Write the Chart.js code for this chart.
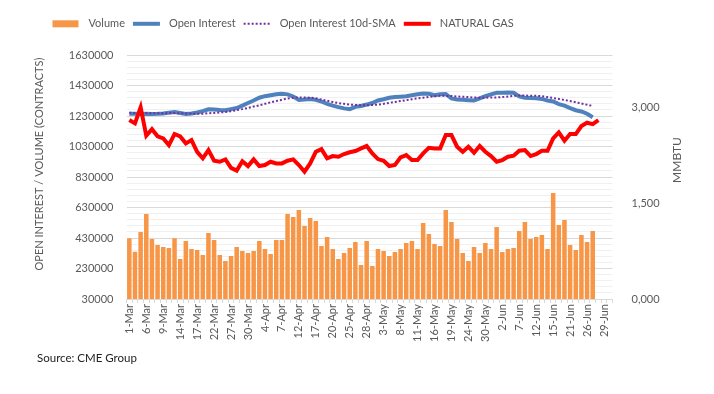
<!DOCTYPE html>
<html>
<head>
<meta charset="utf-8">
<script src="https://cdn.jsdelivr.net/npm/chart.js@4.4.0/dist/chart.umd.min.js"></script>
<style>
  html, body { margin: 0; padding: 0; background: #fff; }
</style>
</head>
<body>
<canvas id="chart" width="714" height="394"></canvas>
<script>
const dates = [
  '1-Mar','2-Mar','3-Mar','6-Mar','7-Mar','8-Mar','9-Mar','10-Mar','13-Mar','14-Mar','15-Mar','16-Mar',
  '17-Mar','20-Mar','21-Mar','22-Mar','23-Mar','24-Mar','27-Mar','28-Mar','29-Mar','30-Mar','31-Mar',
  '3-Apr','4-Apr','5-Apr','6-Apr','7-Apr','10-Apr','11-Apr','12-Apr','13-Apr','14-Apr','17-Apr','18-Apr',
  '19-Apr','20-Apr','21-Apr','24-Apr','25-Apr','26-Apr','27-Apr','28-Apr',
  '1-May','2-May','3-May','4-May','5-May','8-May','9-May','10-May','11-May','12-May','15-May','16-May',
  '17-May','18-May','19-May','22-May','23-May','24-May','25-May','26-May','30-May','31-May',
  '1-Jun','2-Jun','5-Jun','6-Jun','7-Jun','8-Jun','9-Jun','12-Jun','13-Jun','14-Jun','15-Jun','16-Jun',
  '20-Jun','21-Jun','22-Jun','23-Jun','26-Jun','27-Jun','28-Jun','29-Jun','30-Jun'
];

const volume = [
  428000, 340000, 469000, 587000, 423000, 384000, 371000, 364000, 428000, 292000, 410000, 358000,
  351000, 319000, 463000, 417000, 319000, 279000, 312000, 371000, 345000, 332000, 345000,
  410000, 358000, 325000, 417000, 417000, 587000, 568000, 614000, 509000, 561000, 541000, 378000,
  437000, 358000, 292000, 332000, 364000, 404000, 253000, 410000,
  246000, 358000, 345000, 312000, 338000, 358000, 397000, 410000, 358000, 528000, 456000, 391000,
  378000, 614000, 535000, 423000, 332000, 279000, 371000, 332000, 397000, 358000,
  502000, 338000, 358000, 364000, 476000, 535000, 423000, 437000, 450000, 358000, 725000, 515000,
  548000, 384000, 351000, 450000, 404000, 476000
];

const openInterest = [
  1245000, 1244000, 1243000, 1244000, 1243000, 1244000, 1246000, 1252000, 1256000, 1250000, 1243000, 1247000,
  1253000, 1262000, 1274000, 1272000, 1269000, 1268000, 1275000, 1282000, 1298000, 1315000, 1332000,
  1350000, 1360000, 1366000, 1372000, 1376000, 1372000, 1358000, 1335000, 1338000, 1342000, 1336000, 1325000,
  1309000, 1298000, 1288000, 1280000, 1275000, 1290000, 1296000, 1305000,
  1315000, 1332000, 1340000, 1350000, 1354000, 1357000, 1360000, 1366000, 1372000, 1378000, 1376000, 1366000,
  1372000, 1374000, 1345000, 1338000, 1336000, 1334000, 1332000, 1345000, 1360000, 1372000,
  1382000, 1383000, 1384000, 1382000, 1358000, 1350000, 1348000, 1346000, 1342000, 1332000, 1325000, 1308000,
  1298000, 1282000, 1268000, 1260000, 1245000, 1222000
];

const openInterestSma = [
  1251000, 1250000, 1249000, 1249000, 1248000, 1248000, 1248000, 1249000, 1249000, 1248000, 1247000, 1246000,
  1244000, 1245000, 1248000, 1250000, 1253000, 1256000, 1262000, 1268000, 1275000, 1283000, 1292000,
  1300000, 1310000, 1320000, 1328000, 1337000, 1345000, 1350000, 1352000, 1352000, 1350000, 1346000, 1338000,
  1330000, 1322000, 1315000, 1310000, 1305000, 1302000, 1300000, 1300000,
  1302000, 1305000, 1310000, 1316000, 1322000, 1328000, 1334000, 1340000, 1345000, 1350000, 1355000, 1360000,
  1362000, 1362000, 1361000, 1358000, 1356000, 1354000, 1351000, 1350000, 1350000, 1351000,
  1352000, 1354000, 1358000, 1362000, 1364000, 1364000, 1363000, 1362000, 1360000, 1354000, 1348000, 1342000,
  1335000, 1328000, 1320000, 1312000, 1304000, 1296000
];

const naturalGas = [
  2.805, 2.753, 3.004, 2.560, 2.662, 2.550, 2.518, 2.413, 2.586, 2.548, 2.440, 2.492,
  2.308, 2.205, 2.335, 2.167, 2.152, 2.189, 2.056, 2.013, 2.160, 2.084, 2.189,
  2.084, 2.100, 2.152, 2.126, 2.126, 2.167, 2.189, 2.100, 1.995, 2.126, 2.308, 2.350,
  2.205, 2.241, 2.230, 2.272, 2.300, 2.320, 2.361, 2.398,
  2.283, 2.194, 2.167, 2.084, 2.100, 2.220, 2.256, 2.178, 2.178, 2.283, 2.371, 2.361,
  2.361, 2.570, 2.570, 2.387, 2.308, 2.387, 2.293, 2.398, 2.308, 2.241,
  2.152, 2.178, 2.230, 2.246, 2.324, 2.335, 2.241, 2.272, 2.324, 2.324, 2.518, 2.612,
  2.481, 2.586, 2.586, 2.711, 2.763, 2.742, 2.805
];

const leftTicks = [30000, 230000, 430000, 630000, 830000, 1030000, 1230000, 1430000, 1630000];
const leftMinorStep = 40000;
const rightTicks = [0, 1.5, 3];
const leftTitle = 'OPEN INTEREST / VOLUME (CONTRACTS)';
const rightTitle = 'MMBTU';
const source = 'Source: CME Group';

const grey = '#595959';
Chart.defaults.font.family = 'Lato';
Chart.defaults.color = grey;

// every 40000 a faint line, every 200000 a darker one
const gridValues = [];
for (let v = leftTicks[0]; v <= leftTicks[leftTicks.length - 1]; v += leftMinorStep) gridValues.push(v);

// legend, axis titles and source line
const extras = {
  id: 'extras',
  afterDraw(chart) {
    const c = chart.ctx;
    c.save();
    c.fillStyle = grey;
    c.textBaseline = 'middle';

    c.font = '11px Lato';
    c.textAlign = 'center';
    c.save();
    c.translate(39.5, 164);
    c.rotate(-Math.PI / 2);
    c.fillText(leftTitle, 0, 0);
    c.restore();

    c.font = '12px Lato';
    c.save();
    c.translate(677, 160);
    c.rotate(-Math.PI / 2);
    c.fillText(rightTitle, 0, 0);
    c.restore();

    // legend
    c.font = '11px Lato';
    c.textAlign = 'left';
    let x = 52.5;
    const y = 23.8;
    chart.data.datasets.forEach(ds => {
      if (ds.type === 'bar') {
        c.fillStyle = ds.backgroundColor;
        c.fillRect(x, y - 3.5, 26, 7);
      } else {
        c.strokeStyle = ds.borderColor;
        c.lineWidth = ds.borderWidth;
        c.setLineDash(ds.borderDash || []);
        c.beginPath();
        c.moveTo(x, y);
        c.lineTo(x + 27, y);
        c.stroke();
        c.setLineDash([]);
      }
      x += 36;
      c.fillStyle = grey;
      c.fillText(ds.label, x, y);
      x += c.measureText(ds.label).width + 8;
    });

    c.font = '11.5px Lato';
    c.fillStyle = '#222';
    c.fillText(source, 37, 358);
    c.restore();
  }
};

new Chart(document.getElementById('chart'), {
  type: 'bar',
  data: {
    labels: dates,
    datasets: [
      {
        type: 'bar', label: 'Volume', data: volume, yAxisID: 'y', order: 4,
        backgroundColor: '#F79646', barPercentage: 0.8, categoryPercentage: 1
      },
      {
        type: 'line', label: 'Open Interest', data: openInterest, yAxisID: 'y', order: 3,
        borderColor: '#4F81BD', borderWidth: 4, pointRadius: 0, tension: 0
      },
      {
        type: 'line', label: 'Open Interest 10d-SMA', data: openInterestSma, yAxisID: 'y', order: 2,
        borderColor: '#7030A0', borderWidth: 2, borderDash: [2, 2], pointRadius: 0, tension: 0
      },
      {
        type: 'line', label: 'NATURAL GAS', data: naturalGas, yAxisID: 'y1', order: 1,
        borderColor: '#FF0000', borderWidth: 4, pointRadius: 0, tension: 0
      }
    ]
  },
  options: {
    responsive: false,
    animation: false,
    layout: { padding: { top: 55, left: 0, right: 0, bottom: 0 } },
    plugins: { legend: { display: false }, tooltip: { enabled: false } },
    scales: {
      x: {
        grid: { drawOnChartArea: false, tickLength: 4, color: '#d9d9d9', offset: true },
        border: { color: '#d9d9d9' },
        ticks: {
          autoSkip: false, maxRotation: 90, minRotation: 90, padding: 1, font: { size: 11 },
          callback: (v, i) => (i % 3 === 0 ? dates[i] : '')
        },
        afterFit: s => { s.height = 95; }
      },
      y: {
        position: 'left',
        min: leftTicks[0],
        max: leftTicks[leftTicks.length - 1],
        afterBuildTicks: s => { s.ticks = gridValues.map(v => ({ value: v })); },
        ticks: {
          autoSkip: false, padding: 13, font: { size: 11 },
          callback: v => (leftTicks.includes(v) ? String(v) : '')
        },
        grid: {
          drawTicks: false,
          color: c => (leftTicks.includes(c.tick.value) ? '#d9d9d9' : '#f0f0f0')
        },
        border: { display: false },
        afterFit: s => { s.width = 126.5; }
      },
      y1: {
        position: 'right',
        min: 0,
        max: 3.825,
        afterBuildTicks: s => { s.ticks = rightTicks.map(v => ({ value: v })); },
        ticks: {
          padding: 11, font: { size: 11 },
          callback: v => v.toFixed(3).replace('.', ',')
        },
        grid: { display: false },
        border: { display: false },
        afterFit: s => { s.width = 101.5; }
      }
    }
  },
  plugins: [extras]
});
</script>
</body>
</html>
